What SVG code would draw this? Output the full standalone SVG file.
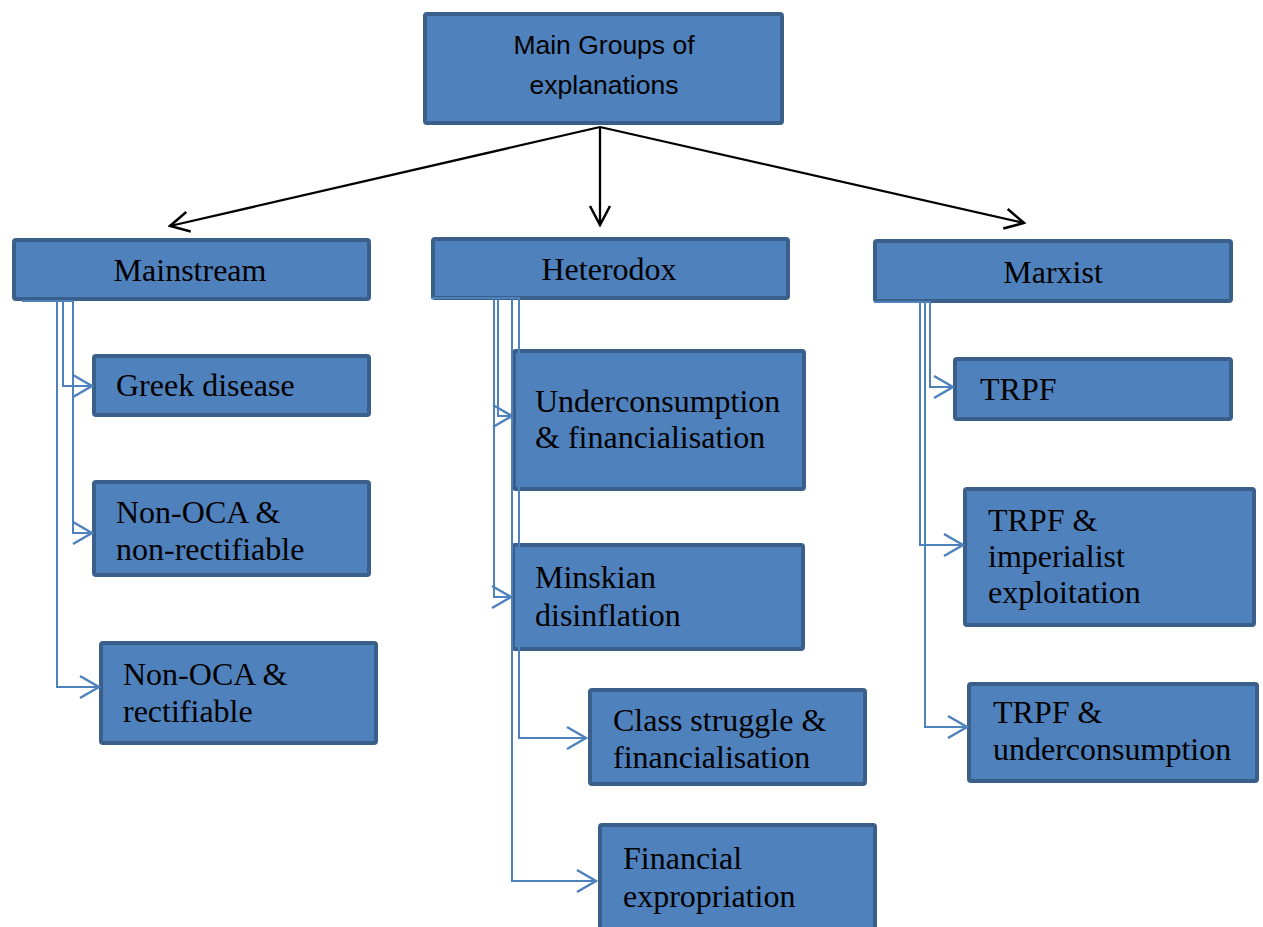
<svg xmlns="http://www.w3.org/2000/svg" width="1263" height="927" viewBox="0 0 1263 927">
<style>
.box{fill:#4f81bd;stroke:#3a5f8b;stroke-width:4}
.t{font-family:"Liberation Serif","Times New Roman",serif;font-size:32px;fill:#000}
.tc{font-family:"Liberation Sans",Arial,sans-serif;font-size:26.5px;fill:#000;text-anchor:middle}
.mid{text-anchor:middle}
.bl{fill:none;stroke:#4f81bd;stroke-width:2}
.bk{fill:none;stroke:#000;stroke-width:2.3}
</style>
<defs>
<marker id="ab" viewBox="0 0 22 26" refX="20" refY="13" markerWidth="22" markerHeight="26" markerUnits="userSpaceOnUse" orient="auto">
<path d="M1,2 L20,13 L1,24" fill="none" stroke="#4f81bd" stroke-width="2.5"/>
</marker>
<marker id="ak" viewBox="0 0 22 26" refX="20" refY="13" markerWidth="22" markerHeight="26" markerUnits="userSpaceOnUse" orient="auto">
<path d="M1,3 L20,13 L1,23" fill="none" stroke="#000" stroke-width="2.5"/>
</marker>
</defs>
<g id="root"><rect class="box" x="425" y="14" width="357" height="109" rx="2"/>
<text class="tc" x="604" y="54">Main Groups of</text><text class="tc" x="604" y="94">explanations</text></g>
<g id="mainstream"><rect class="box" x="14" y="240" width="355" height="59" rx="2"/><text class="t mid" x="190" y="281">Mainstream</text></g>
<g id="heterodox"><rect class="box" x="433" y="239" width="355" height="59" rx="2"/><text class="t mid" x="609" y="280">Heterodox</text></g>
<g id="marxist"><rect class="box" x="875" y="241" width="356" height="60" rx="2"/><text class="t mid" x="1053" y="283">Marxist</text></g>
<g id="greek"><rect class="box" x="94" y="356" width="275" height="59" rx="2"/><text class="t" x="116" y="396">Greek disease</text></g>
<g id="nonrect"><rect class="box" x="94" y="482" width="275" height="93" rx="2"/><text class="t" x="116" y="523">Non-OCA &amp;</text><text class="t" x="116" y="560">non-rectifiable</text></g>
<g id="rect"><rect class="box" x="101" y="643" width="275" height="100" rx="2"/><text class="t" x="123" y="685">Non-OCA &amp;</text><text class="t" x="123" y="722">rectifiable</text></g>
<g id="undercons"><rect class="box" x="514" y="351" width="290" height="138" rx="2"/><text class="t" x="535" y="412">Underconsumption</text><text class="t" x="535" y="448">&amp; financialisation</text></g>
<g id="minskian"><rect class="box" x="513" y="545" width="290" height="104" rx="2"/><text class="t" x="535" y="588">Minskian</text><text class="t" x="535" y="626">disinflation</text></g>
<g id="classstruggle"><rect class="box" x="590" y="690" width="275" height="94" rx="2"/><text class="t" x="613" y="731">Class struggle &amp;</text><text class="t" x="613" y="768">financialisation</text></g>
<g id="financial"><rect class="box" x="600" y="825" width="275" height="110" rx="2"/><text class="t" x="623" y="869">Financial</text><text class="t" x="623" y="907">expropriation</text></g>
<g id="trpf"><rect class="box" x="955" y="359" width="276" height="60" rx="2"/><text class="t" x="980" y="400">TRPF</text></g>
<g id="trpfimp"><rect class="box" x="965" y="489" width="289" height="136" rx="2"/><text class="t" x="988" y="531">TRPF &amp;</text><text class="t" x="988" y="567">imperialist</text><text class="t" x="988" y="603">exploitation</text></g>
<g id="trpfunder"><rect class="box" x="969" y="684" width="288" height="97" rx="2"/><text class="t" x="993" y="723">TRPF &amp;</text><text class="t" x="993" y="760">underconsumption</text></g>
<g id="connectors">
<path class="bk" d="M600,127 L170,226" marker-end="url(#ak)"/>
<path class="bk" d="M600,127 L600,225" marker-end="url(#ak)"/>
<path class="bk" d="M600,127 L1024,223" marker-end="url(#ak)"/>
<path class="bl" d="M22,301 H63 V386 H92" marker-end="url(#ab)"/>
<path class="bl" d="M22,301 H73 V533 H92" marker-end="url(#ab)"/>
<path class="bl" d="M22,301 H57 V687 H99" marker-end="url(#ab)"/>
<path class="bl" d="M431,298 H498 V416 H512" marker-end="url(#ab)"/>
<path class="bl" d="M431,298 H494 V597 H511" marker-end="url(#ab)"/>
<path class="bl" d="M431,298 H519 V738 H586" marker-end="url(#ab)"/>
<path class="bl" d="M431,298 H512 V881 H596" marker-end="url(#ab)"/>
<path class="bl" d="M874,302 H930 V387 H953" marker-end="url(#ab)"/>
<path class="bl" d="M874,302 H920 V545 H963" marker-end="url(#ab)"/>
<path class="bl" d="M874,302 H925 V727 H967" marker-end="url(#ab)"/>
</g>
</svg>
